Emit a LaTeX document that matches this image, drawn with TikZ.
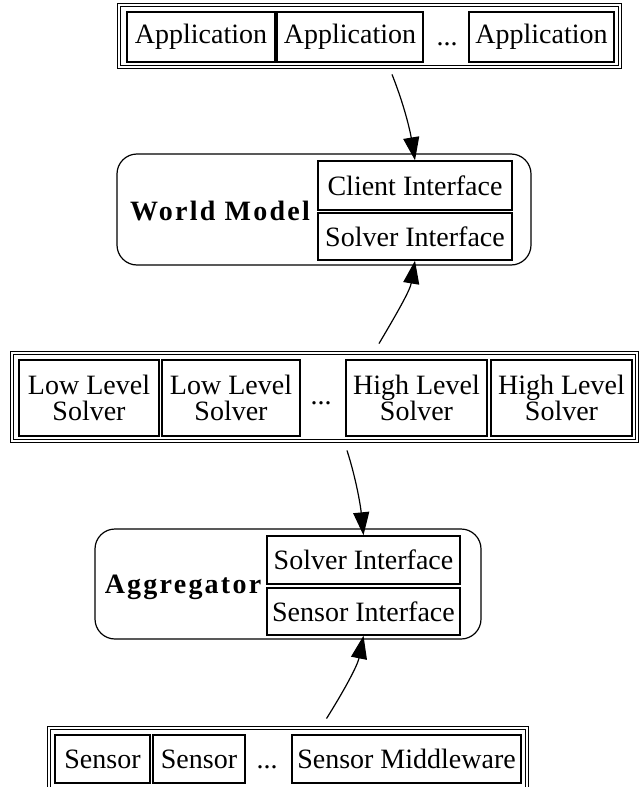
\documentclass[tikz,border=0pt]{standalone}
\usepackage{fontspec}
\setmainfont{Liberation Serif}
\newfontfamily\tagfont{Liberation Serif}[LetterSpace=8]
\usetikzlibrary{arrows.meta}

\begin{document}
\begin{tikzpicture}[
  x=1pt, y=-1pt,
  frame/.style={rectangle, draw, double, double distance=1.8pt, line width=0.9pt, inner sep=0pt},
  cell/.style={rectangle, draw, line width=1.4pt, inner sep=0pt, minimum height=48pt},
  twoline/.style={align=center, minimum height=76pt, font=\fontsize{28}{26}\selectfont},
  group/.style={rectangle, draw, rounded corners=20pt, line width=1.2pt, inner sep=0pt},
  tag/.style={font=\tagfont\bfseries\fontsize{28}{24}\selectfont},
  dots/.style={inner sep=0pt},
  flow/.style={-{Triangle[length=23pt,width=16pt]}, line width=1.2pt},
  font=\fontsize{28}{24}\selectfont
]
\useasboundingbox (0,0) rectangle (641,787);
\clip (0,0) rectangle (641,787);

% Applications
\node[frame, minimum width=501pt, minimum height=62pt] (apps) at (369.5,36) {};
\node[cell, minimum width=148pt, minimum height=50pt] (app1) at (201,37) {Application};
\node[cell, minimum width=146pt, minimum height=50pt, right of=app1, node distance=149pt] (app2) {Application};
\node[dots, right of=app2, node distance=97pt, yshift=-7pt] (appdots) {...};
\node[cell, minimum width=145pt, minimum height=50pt, right of=app2, node distance=191.5pt] (app3) {Application};

% World model
\node[group, minimum width=414pt, minimum height=111pt] (wm) at (324,209.5) {};
\node[cell, minimum width=194pt, minimum height=49pt] (wmclient) at (415,185.5) {Client Interface};
\node[cell, minimum width=194pt, minimum height=47pt, below of=wmclient, node distance=51pt] (wmsolver) {Solver Interface};
\node[tag] (wmlabel) at (220,211) {World Model};

% Solvers
\node[frame, minimum width=625pt, minimum height=88pt] (solvers) at (324.5,397) {};
\node[cell, twoline, minimum width=140pt] (low1) at (89,398) {Low Level\\Solver};
\node[cell, twoline, minimum width=138pt, right of=low1, node distance=142pt] (low2) {Low Level\\Solver};
\node[dots, right of=low2, node distance=90pt, yshift=-5pt] (solverdots) {...};
\node[cell, twoline, minimum width=141pt, right of=low2, node distance=185.5pt] (high1) {High Level\\Solver};
\node[cell, twoline, minimum width=141pt, right of=high1, node distance=145pt] (high2) {High Level\\Solver};

% Aggregator
\node[group, minimum width=386pt, minimum height=110pt] (agg) at (288,584) {};
\node[cell, minimum width=193pt, minimum height=48pt] (aggsolver) at (363.5,560) {Solver Interface};
\node[cell, minimum width=193pt, minimum height=47pt, below of=aggsolver, node distance=51.5pt] (aggsensor) {Sensor Interface};
\node[tag] (agglabel) at (183,587) {Aggregator};

% Sensors
\node[frame, minimum width=478pt, minimum height=62pt] (sensors) at (288,759) {};
\node[cell, minimum width=95pt] (sensor1) at (102.5,759) {Sensor};
\node[cell, minimum width=92pt, right of=sensor1, node distance=96.5pt] (sensor2) {Sensor};
\node[dots, right of=sensor2, node distance=68pt, yshift=-8pt] (sensordots) {...};
\node[cell, minimum width=229pt, right of=sensor2, node distance=207.5pt] (middleware) {Sensor Middleware};

% Connections
\draw[flow] ([xshift=22.5pt,yshift=-7pt]apps.south) .. controls +(12,30) and +(-5,-30) .. (wmclient.north);
\draw[flow] ([xshift=54.5pt,yshift=9pt]solvers.north) .. controls +(16,-27) and +(-5,30) .. (wmsolver.south);
\draw[flow] ([xshift=22.5pt,yshift=-9pt]solvers.south) .. controls +(9,28) and +(-3,-30) .. (aggsolver.north);
\draw[flow] ([xshift=38.5pt,yshift=9pt]sensors.north) .. controls +(17,-27) and +(-6,30) .. (aggsensor.south);
\end{tikzpicture}
\end{document}
